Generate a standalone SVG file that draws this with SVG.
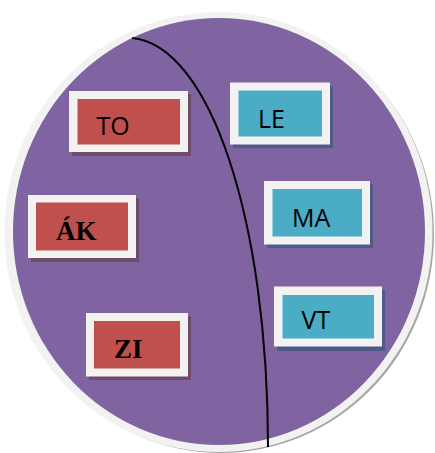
<svg xmlns="http://www.w3.org/2000/svg" width="435" height="453" viewBox="0 0 435 453">
<style>
.frame{fill:#F2F2F2}
.shr{fill:#6E4A6B}
.shb{fill:#4E5B88}
.red{fill:#C0504D}
.blue{fill:#4BACC6}
.sans{font-family:"Open Sans","DejaVu Sans",sans-serif;font-size:25px;fill:#000}
.serif{font-family:"Liberation Serif","Times New Roman",serif;font-size:27px;font-weight:bold;fill:#000}
</style>
<rect width="435" height="453" fill="#fff"/>
<g id="circle">
<ellipse cx="221" cy="234" rx="213" ry="219" fill="#A6A6A6"/>
<ellipse cx="218.5" cy="232" rx="214" ry="220" fill="#F2F2F2"/>
<ellipse cx="219" cy="231.5" rx="206" ry="213.5" fill="#8064A2"/>
</g>
<g id="connectors">
<path d="M132,38 C210,45 268,220 268,447" fill="none" stroke="#000" stroke-width="2"/>
</g>
<g id="node-TO">
<rect class="shr" x="72" y="94" width="119" height="62"/>
<rect class="frame" x="69" y="91" width="119" height="61"/>
<rect class="red" x="77.5" y="99" width="102.5" height="45.5"/>
<text class="sans" x="96.5" y="135">TO</text>
</g>
<g id="node-AK">
<rect class="shr" x="31" y="198" width="108" height="64"/>
<rect class="frame" x="28" y="195" width="108" height="63"/>
<rect class="red" x="36" y="202.5" width="92" height="48"/>
<text class="serif" x="56" y="239.5">ÁK</text>
</g>
<g id="node-ZI">
<rect class="shr" x="89" y="316" width="102" height="64"/>
<rect class="frame" x="86" y="313" width="102" height="63.5"/>
<rect class="red" x="94" y="321" width="86" height="47.5"/>
<text class="serif" x="114" y="357.5">ZI</text>
</g>
<g id="node-LE">
<rect class="shb" x="233" y="86" width="100" height="62"/>
<rect class="frame" x="230" y="82.5" width="100" height="62"/>
<rect class="blue" x="238.5" y="90.5" width="83.5" height="46"/>
<text class="sans" x="258" y="127.5">LE</text>
</g>
<g id="node-MA">
<rect class="shb" x="267" y="184" width="106" height="64"/>
<rect class="frame" x="264" y="181" width="106" height="63.5"/>
<rect class="blue" x="272.5" y="189" width="89.5" height="47.5"/>
<text class="sans" x="292" y="226.5">MA</text>
</g>
<g id="node-VT">
<rect class="shb" x="277" y="290" width="108" height="61"/>
<rect class="frame" x="274" y="286.5" width="108" height="60"/>
<rect class="blue" x="282.5" y="295" width="91.5" height="43.5"/>
<text class="sans" x="301.5" y="328.5">VT</text>
</g>
</svg>
